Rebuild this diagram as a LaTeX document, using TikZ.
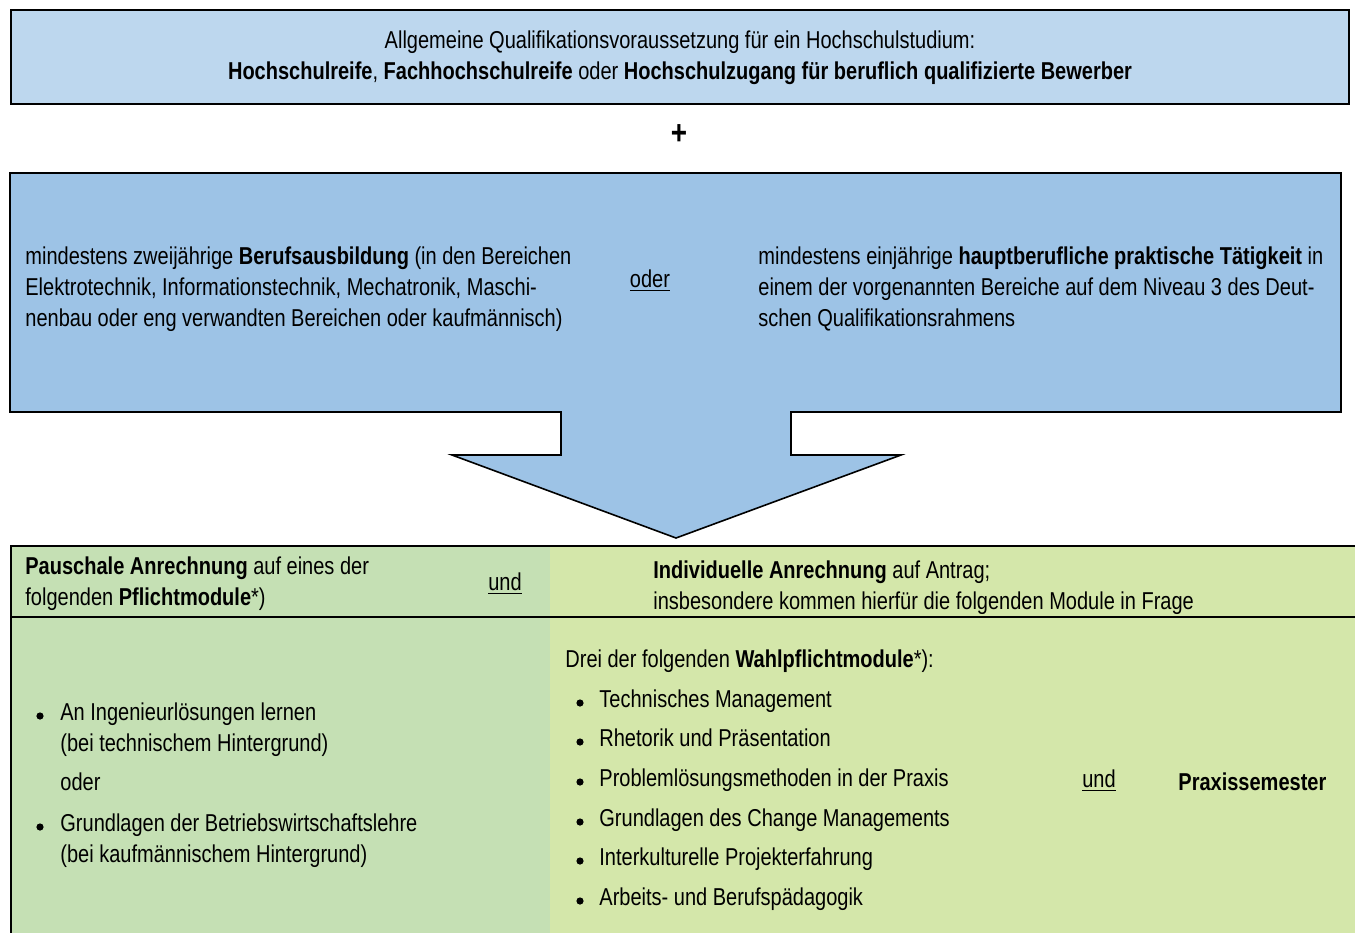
\documentclass[tikz,border=0pt]{standalone}
\usepackage{fontspec}
\setmainfont[FakeStretch=0.82]{Liberation Sans}
\usetikzlibrary{positioning}
\definecolor{topblue}{HTML}{BDD7EE}
\definecolor{midblue}{HTML}{9DC3E6}
\definecolor{leftgreen}{HTML}{C5E0B4}
\definecolor{rightgreen}{HTML}{D4E7AA}

\begin{document}
\begin{tikzpicture}[x=0.5pt, y=-0.5pt,
    txt/.style={anchor=west, inner sep=0pt, align=left, font=\fontsize{12.2}{15.5}\selectfont},
    line/.style={txt, text height=8.8pt, text depth=2.6pt},
    ctxt/.style={inner sep=0pt, align=center, font=\fontsize{12.2}{15.5}\selectfont},
    dot/.style={circle, fill=black, inner sep=0pt, minimum size=3.6pt}]
    \useasboundingbox (0,0) rectangle (1355,933);

    % top box
    \draw[line width=1pt, fill=topblue] (11,10) rectangle (1349,104);
    \node[ctxt] (top) at (680,58) {Allgemeine Qualifikationsvoraussetzung für ein Hochschulstudium:\\
        \textbf{Hochschulreife}, \textbf{Fachhochschulreife} oder \textbf{Hochschulzugang für beruflich qualifizierte Bewerber}};
    \node[inner sep=0pt, font=\fontsize{17}{17}\selectfont\bfseries] (plus) at (679,135) {+};

    % box with arrow
    \draw[line width=0.8pt, fill=midblue] (10,173) -- (1341,173) -- (1341,412) -- (791,412) -- (791,455)
        -- (901,455) -- (676,538) -- (452,455) -- (561,455) -- (561,412) -- (10,412) -- cycle;
    \node[txt] (ausb) at (25,289) {mindestens zweijährige \textbf{Berufsausbildung} (in den Bereichen\\
        Elektrotechnik, Informationstechnik, Mechatronik, Maschi-\\
        nenbau oder eng verwandten Bereichen oder kaufmännisch)};
    \node[ctxt] (oder1) at (650,281) {\underline{oder}};
    \node[txt] (taet) at (758,289) {mindestens einjährige \textbf{hauptberufliche praktische Tätigkeit} in\\
        einem der vorgenannten Bereiche auf dem Niveau 3 des Deut-\\
        schen Qualifikationsrahmens};

    % table
    \fill[leftgreen] (11,546) rectangle (550,933);
    \fill[rightgreen] (550,546) rectangle (1355,933);
    \draw[line width=1pt] (1355,546) -- (11,546) -- (11,933);
    \draw[line width=1pt] (11,617) -- (1355,617);

    \node[txt] (pausch) at (25,584) {\textbf{Pauschale Anrechnung} auf eines der\\
        folgenden \textbf{Pflichtmodule}*)};
    \node[ctxt] (und1) at (505,584) {\underline{und}};
    \node[txt] (indiv) at (653,588) {\textbf{Individuelle Anrechnung} auf Antrag;\\
        insbesondere kommen hierfür die folgenden Module in Frage};

    % Pflichtmodule
    \node[dot] (b1) at (40,716) {};
    \node[txt] (ing) at (60,730) {An Ingenieurlösungen lernen\\(bei technischem Hintergrund)};
    \node[line] (oder2) at (60,784) {oder};
    \node[dot] (b2) at (40,827) {};
    \node[txt] (bwl) at (60,841) {Grundlagen der Betriebswirtschaftslehre\\(bei kaufmännischem Hintergrund)};

    % Wahlpflichtmodule
    \node[line] (drei) at (565,661) {Drei der folgenden \textbf{Wahlpflichtmodule}*):};
    \foreach \y/\t [count=\i] in {701/Technisches Management, 740/Rhetorik und Präsentation,
        780/Problemlösungsmethoden in der Praxis, 820/Grundlagen des Change Managements,
        859/Interkulturelle Projekterfahrung, 899/Arbeits- und Berufspädagogik} {
        \node[dot] (wb\i) at (580,\y+2) {};
        \node[line] (w\i) at (599,\y) {\t};
    }
    \node[ctxt] (und2) at (1099,781) {\underline{und}};
    \node[line] (praxis) at (1178,784) {\textbf{Praxissemester}};
\end{tikzpicture}
\end{document}
